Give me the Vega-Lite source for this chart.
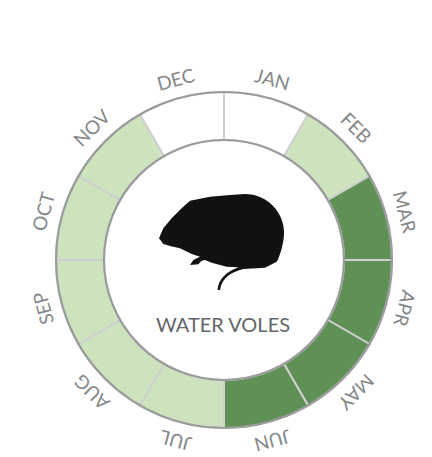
{
  "$schema": "https://vega.github.io/schema/vega-lite/v6.json",
  "width": 416,
  "height": 394,
  "padding": {"left": 16, "top": 63, "right": 0, "bottom": 0},
  "autosize": {"type": "none"},
  "background": "white",
  "config": {"view": {"stroke": null}},
  "datasets": {
    "months": [
      {"month": "JAN", "order": 1, "share": 1, "status": "absent"},
      {"month": "FEB", "order": 2, "share": 1, "status": "some"},
      {"month": "MAR", "order": 3, "share": 1, "status": "peak"},
      {"month": "APR", "order": 4, "share": 1, "status": "peak"},
      {"month": "MAY", "order": 5, "share": 1, "status": "peak"},
      {"month": "JUN", "order": 6, "share": 1, "status": "peak"},
      {"month": "JUL", "order": 7, "share": 1, "status": "some"},
      {"month": "AUG", "order": 8, "share": 1, "status": "some"},
      {"month": "SEP", "order": 9, "share": 1, "status": "some"},
      {"month": "OCT", "order": 10, "share": 1, "status": "some"},
      {"month": "NOV", "order": 11, "share": 1, "status": "some"},
      {"month": "DEC", "order": 12, "share": 1, "status": "absent"}
    ],
    "title": [{"name": "WATER VOLES"}]
  },
  "layer": [
    {
      "data": {"name": "months"},
      "mark": {"type": "arc", "radius": 168, "radius2": 120, "stroke": "#cfcfcf", "strokeWidth": 2},
      "encoding": {
        "theta": {"field": "share", "type": "quantitative", "stack": true, "scale": {"domain": [0, 12]}},
        "order": {"field": "order", "type": "quantitative"},
        "color": {
          "field": "status",
          "type": "nominal",
          "legend": null,
          "scale": {"domain": ["absent", "some", "peak"], "range": ["#ffffff", "#cde3bd", "#5f9055"]}
        }
      }
    },
    {
      "data": {"name": "title"},
      "mark": {"type": "arc", "theta": 0, "theta2": 6.2832, "radius": 168, "radius2": 120, "fill": null, "filled": false, "stroke": "#9a9c9c", "strokeWidth": 2.2},
      "encoding": {}
    },
    {
      "data": {"name": "months"},
      "mark": {"type": "text", "radius": 186, "font": "Lato", "fontSize": 19, "color": "#858789", "align": "center", "baseline": "middle"},
      "encoding": {
        "theta": {"field": "share", "type": "quantitative", "stack": true, "scale": {"domain": [0, 12]}},
        "order": {"field": "order", "type": "quantitative"},
        "text": {"field": "month", "type": "nominal"},
        "angle": {
          "field": "order",
          "type": "quantitative",
          "legend": null,
          "scale": {"type": "linear", "domain": [1, 12], "range": [15, 345], "zero": false, "nice": false}
        }
      }
    },
    {
      "data": {"name": "title"},
      "mark": {
        "type": "point",
        "filled": true,
        "opacity": 1,
        "color": "#111114",
        "size": 40000,
        "shape": "M-0.65,-0.2167 L-0.6067,-0.3167 L-0.5233,-0.4167 L-0.4233,-0.5167 L-0.34,-0.5933 L-0.14,-0.6333 L0.06,-0.65 L0.21,-0.66 C0.38,-0.66 0.52,-0.55 0.57,-0.42 C0.62,-0.3 0.6,-0.2 0.57,-0.09 C0.55,-0.03 0.54,0 0.5267,0.0167 L0.41,0.0767 L0.1933,0.09 C0.08,0.12 -0.02,0.17 -0.04,0.3 L-0.0633,0.3 C-0.06,0.2 0.02,0.12 0.1433,0.0733 L0.0267,0.0667 L-0.1233,0.0267 L-0.19,0 L-0.2233,0.0067 L-0.2567,0.0433 L-0.34,0.05 L-0.3067,0 L-0.24,-0.0333 L-0.3233,-0.06 L-0.44,-0.1167 L-0.54,-0.14 L-0.6067,-0.16 Z"
      },
      "encoding": {}
    },
    {
      "data": {"name": "title"},
      "mark": {"type": "text", "font": "Lato", "fontSize": 20, "color": "#636567", "dy": 66, "dx": -1, "align": "center", "baseline": "middle"},
      "encoding": {"text": {"field": "name", "type": "nominal"}}
    }
  ]
}
